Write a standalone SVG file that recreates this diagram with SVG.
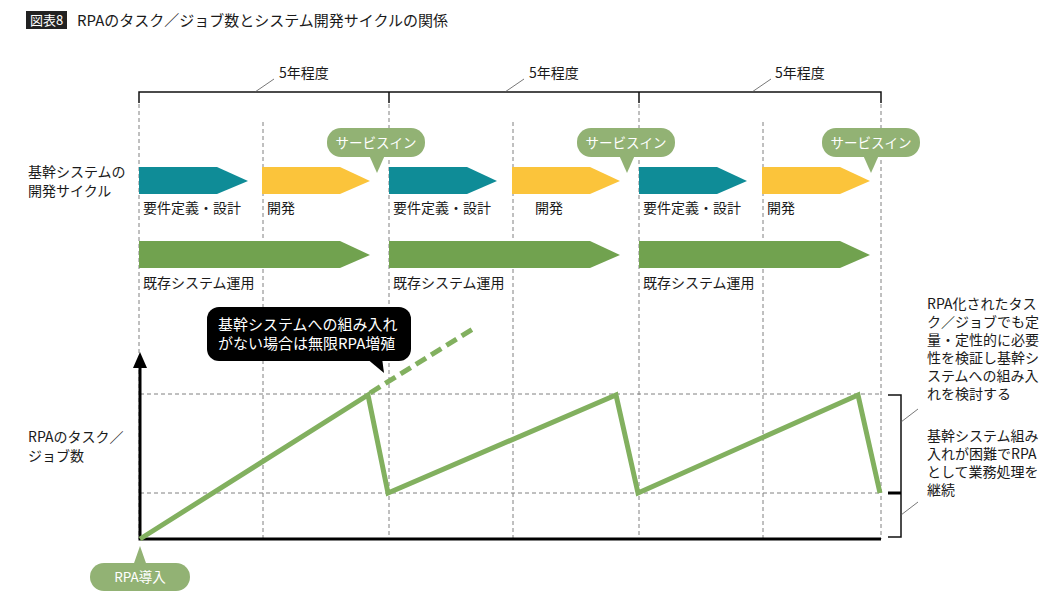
<svg xmlns="http://www.w3.org/2000/svg" width="1055" height="611" viewBox="0 0 1055 611">
<style>
text{font-family:"Noto Sans CJK JP","Noto Sans",sans-serif;fill:#1a1a1a}
.t{font-size:14px}
.w{fill:#fff}
.grid{stroke:#808080;stroke-width:1;stroke-dasharray:4 3;fill:none}
.blk{stroke:#111;fill:none}
.teal{fill:#0f8c97}
.yel{fill:#fbc43b}
.grn{fill:#71a24f}
.bub{fill:#92b274}
.ldr{stroke:#555;stroke-width:0.8;fill:none}
</style>
<rect width="1055" height="611" fill="#fff"/>
<g id="title">
<rect x="26" y="11" width="41" height="18" fill="#222"/>
<text x="46.5" y="25" class="w" font-size="13" text-anchor="middle">図表8</text>
<text x="77" y="26" font-size="15">RPAのタスク／ジョブ数とシステム開発サイクルの関係</text>
</g>
<g id="period-bracket">
<path class="blk" stroke-width="1.5" d="M139,103V92H881V103M389,92V103M639,92V103"/>
<path class="ldr" d="M255,92L274,79M505,92L524,79M752,92L771,79"/>
<text x="279" y="78" class="t">5年程度</text>
<text x="529" y="78" class="t">5年程度</text>
<text x="775" y="78" class="t">5年程度</text>
</g>
<g id="grid">
<path class="grid" d="M139,104V539M263,122V539M389,104V539M513,122V539M639,104V539M763,122V539M881,104V539"/>
<path class="grid" d="M140,394H882M140,493H882"/>
</g>
<g id="row-labels">
<text x="28" y="177" class="t">基幹システムの</text>
<text x="28" y="196" class="t">開発サイクル</text>
<text x="28" y="442" class="t">RPAのタスク／</text>
<text x="28" y="461" class="t">ジョブ数</text>
</g>
<g id="cycle1">
<polygon class="teal" points="139,167 217,167 248,181 217,194 139,194"/>
<polygon class="yel" points="262,167 340,167 370,181 340,194 262,194"/>
<polygon class="grn" points="139,241 340,241 370,255 340,268 139,268"/>
<text x="143" y="213" class="t">要件定義・設計</text>
<text x="267" y="213" class="t">開発</text>
<text x="143" y="288" class="t">既存システム運用</text>
</g>
<g id="cycle2">
<polygon class="teal" points="389,167 467,167 497,181 467,194 389,194"/>
<polygon class="yel" points="512,167 590,167 620,181 590,194 512,194"/>
<polygon class="grn" points="389,241 590,241 620,255 590,268 389,268"/>
<text x="393" y="213" class="t">要件定義・設計</text>
<text x="535" y="213" class="t">開発</text>
<text x="393" y="288" class="t">既存システム運用</text>
</g>
<g id="cycle3">
<polygon class="teal" points="639,167 717,167 747,181 717,194 639,194"/>
<polygon class="yel" points="762,167 840,167 870,181 840,194 762,194"/>
<polygon class="grn" points="639,241 840,241 870,255 840,268 639,268"/>
<text x="643" y="213" class="t">要件定義・設計</text>
<text x="767" y="213" class="t">開発</text>
<text x="643" y="288" class="t">既存システム運用</text>
</g>
<g id="service-in-1">
<rect x="327" y="128" width="98" height="29" rx="14" class="bub"/>
<polygon class="bub" points="369,155 385,155 377,173"/>
<text x="376" y="147.5" class="w" font-size="13.5" text-anchor="middle">サービスイン</text>
</g>
<g id="service-in-2">
<rect x="577" y="128" width="98" height="29" rx="14" class="bub"/>
<polygon class="bub" points="619,155 635,155 627,173"/>
<text x="626" y="147.5" class="w" font-size="13.5" text-anchor="middle">サービスイン</text>
</g>
<g id="service-in-3">
<rect x="822" y="128" width="98" height="29" rx="14" class="bub"/>
<polygon class="bub" points="863,155 879,155 871,173"/>
<text x="871" y="147.5" class="w" font-size="13.5" text-anchor="middle">サービスイン</text>
</g>
<g id="axes">
<path stroke="#000" stroke-width="3" fill="none" d="M140,366V539H881"/>
<polygon points="140,352 133,368 147,368" fill="#000"/>
</g>
<g id="connectors">
<polyline fill="none" stroke="#82b05f" stroke-width="5" stroke-linejoin="miter" points="140,539 368,395 388,493 616,395 638,493 858,395 880,493"/>
<line x1="370" y1="393" x2="476" y2="327" stroke="#82b05f" stroke-width="5" stroke-dasharray="12 6"/>
</g>
<g id="callout">
<rect x="207" y="307" width="204" height="54" rx="12" fill="#000"/>
<polygon points="366,358 382,358 384,373" fill="#000"/>
<text x="218" y="330" class="w" font-size="15">基幹システムへの組み入れ</text>
<text x="218" y="349" class="w" font-size="15">がない場合は無限RPA増殖</text>
</g>
<g id="rpa-intro">
<rect x="90" y="563" width="100" height="28" rx="14" class="bub"/>
<polygon class="bub" points="133,566 147,566 140,546"/>
<text x="140" y="582" class="w" font-size="13.5" text-anchor="middle">RPA導入</text>
</g>
<g id="right-bracket">
<path class="blk" stroke-width="1.5" d="M888,395H901V537H888"/>
<path stroke="#000" stroke-width="3" d="M888,493H901"/>
<path class="ldr" d="M901,422L918,409M901,515L918,502"/>
<g id="note1" class="t">
<text x="927" y="309">RPA化されたタス</text>
<text x="927" y="327">ク／ジョブでも定</text>
<text x="927" y="345">量・定性的に必要</text>
<text x="927" y="363">性を検証し基幹シ</text>
<text x="927" y="381">ステムへの組み入</text>
<text x="927" y="399">れを検討する</text>
</g>
<g id="note2" class="t">
<text x="927" y="441">基幹システム組み</text>
<text x="927" y="459">入れが困難でRPA</text>
<text x="927" y="477">として業務処理を</text>
<text x="927" y="495">継続</text>
</g>
</g>
</svg>
